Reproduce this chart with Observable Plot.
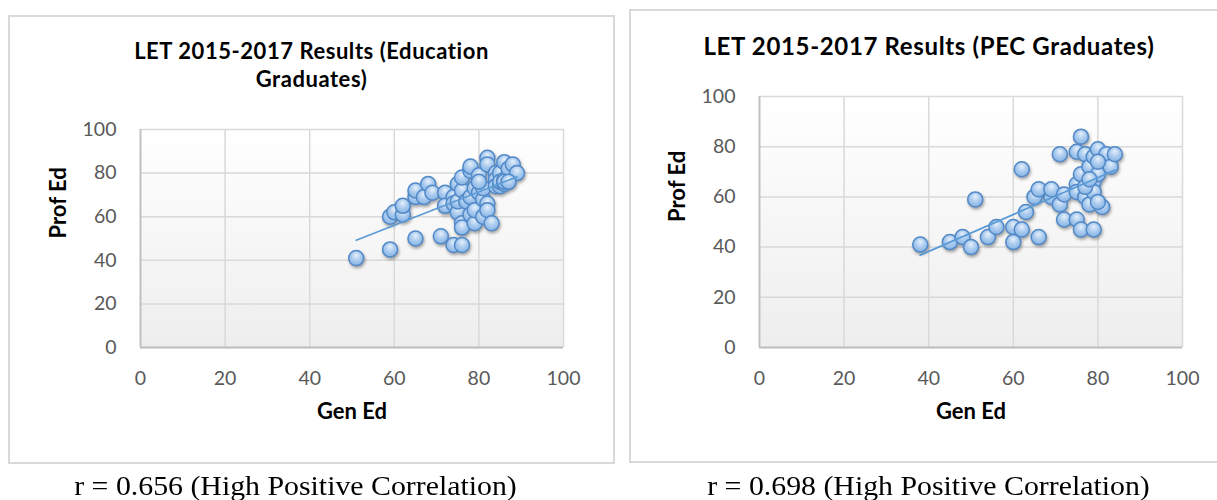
<!DOCTYPE html>
<html>
<head>
<meta charset="utf-8">
<script src="https://cdn.jsdelivr.net/npm/d3@7"></script>
<script src="https://cdn.jsdelivr.net/npm/@observablehq/plot@0.6"></script>
<style>
  html, body { margin: 0; padding: 0; background: #fff; }
  body { width: 1217px; height: 500px; position: relative; overflow: hidden; }
  .box { position: absolute; border: 2px solid #d9d9d9; box-sizing: border-box; }
  .chart { position: absolute; }
  .title { position: absolute; font-family: Lato, sans-serif; font-weight: bold; line-height: 28px; color: #000; text-align: center; white-space: nowrap; }
  .caption { position: absolute; font-family: "Liberation Serif", "Times New Roman", serif; font-size: 28px; line-height: 1; color: #000; text-align: center; white-space: nowrap; transform: scaleX(1.065); }
</style>
</head>
<body>
<div class="box" style="left:8px;top:15px;width:607px;height:449px;"></div>
<div class="box" style="left:629px;top:9px;width:600px;height:454px;"></div>
<div id="chartL" class="chart" style="left:9px;top:16px;"></div>
<div id="chartR" class="chart" style="left:630px;top:10px;"></div>
<div class="title" style="left:9px;width:605px;top:37px;font-size:22px;letter-spacing:0.55px;">LET 2015-2017 Results (Education<br>Graduates)</div>
<div class="title" style="left:630px;width:598px;top:32px;font-size:24px;letter-spacing:0.65px;">LET 2015-2017 Results (PEC Graduates)</div>
<div class="caption" style="left:0px;width:591px;top:472px;">r = 0.656 (High Positive Correlation)</div>
<div class="caption" style="left:630px;width:597px;top:472px;">r = 0.698 (High Positive Correlation)</div>
<script>
// ---- Data ----
const xTicks = [0, 20, 40, 60, 80, 100];
const yTicks = [0, 20, 40, 60, 80, 100];

// Education graduates: Gen Ed (x) and Prof Ed (y)
const eduGen  = [51, 59, 65, 71, 74, 76, 59, 60, 62, 62, 65, 65, 67, 68, 69, 72, 72, 74, 74, 75, 75, 75, 76, 76, 76, 77, 78, 78, 79, 79, 79, 80, 81, 81, 81, 82, 82, 83, 76, 78, 78, 80, 80, 82, 82, 84, 84, 84, 85, 85, 85, 86, 86, 86, 87, 88, 89, 86, 87];
const eduProf = [41, 45, 50, 51, 47, 47, 60, 62, 61, 65, 69, 72, 69, 75, 71, 71, 65, 69, 66, 75, 62, 67, 57, 55, 72, 67, 61, 69, 57, 63, 73, 71, 60, 68, 73, 66, 63, 57, 78, 81, 83, 79, 76, 87, 84, 80, 77, 74, 80, 74, 76, 85, 75, 77, 82, 84, 80, 76, 76];

// PEC graduates: Gen Ed (x) and Prof Ed (y)
const pecGen  = [38, 45, 48, 50, 51, 54, 56, 60, 60, 62, 62, 63, 65, 66, 66, 69, 69, 71, 71, 72, 72, 75, 76, 76, 75, 77, 75, 75, 76, 77, 78, 78, 79, 79, 79, 79, 80, 80, 81, 82, 83, 84, 80, 80, 77, 78];
const pecProf = [41, 42, 44, 40, 59, 44, 48, 48, 42, 47, 71, 54, 60, 63, 44, 60, 63, 57, 77, 51, 61, 51, 47, 84, 78, 77, 65, 62, 69, 60, 57, 72, 66, 62, 47, 76, 79, 69, 56, 77, 72, 77, 58, 74, 64, 67];

function makeChart(gen, prof, id, opts) {
  const data = gen.map((g, i) => ({gen: g, prof: prof[i]}));
  const svg = Plot.plot({
    width: opts.width,
    height: opts.height,
    marginLeft: opts.ml,
    marginRight: opts.mr,
    marginTop: opts.mt,
    marginBottom: opts.mb,
    x: {domain: [0, 100]},
    y: {domain: [0, 100]},
    style: {fontFamily: "Lato, sans-serif", fontSize: "19.5px", color: "#595959", background: "transparent", overflow: "visible"},
    marks: [
      Plot.frame({fill: `url(#bg${id})`, stroke: "none"}),
      Plot.gridX(xTicks, {stroke: "#d9d9d9", strokeOpacity: 1, strokeWidth: 1.5}),
      Plot.gridY(yTicks, {stroke: "#d9d9d9", strokeOpacity: 1, strokeWidth: 1.5}),
      Plot.ruleX([0], {stroke: "#bfbfbf", strokeWidth: 1.8}),
      Plot.ruleY([0], {stroke: "#bfbfbf", strokeWidth: 1.8}),
      Plot.axisX(xTicks, {tickSize: 0, tickPadding: 24, label: null}),
      Plot.axisY(yTicks, {tickSize: 0, tickPadding: 24, label: null}),
      Plot.dot(data, {x: "gen", y: "prof", r: 7.5, fill: `url(#dot${id})`, stroke: "#5289c8", strokeWidth: 1.5}),
      Plot.linearRegressionY(data, {x: "gen", y: "prof", stroke: "#5b9bd5", strokeWidth: 1.8, ci: 0}),
      Plot.text(["Gen Ed"], {text: d => d, frameAnchor: "bottom", dy: 71, fontWeight: "bold", fill: "#000", fontSize: 22}),
      Plot.text(["Prof Ed"], {text: d => d, frameAnchor: "left", dx: -82, rotate: -90, fontWeight: "bold", fill: "#000", fontSize: 22})
    ]
  });
  const s = d3.select(svg);
  const defs = s.insert("defs", ":first-child");
  const bg = defs.append("linearGradient").attr("id", `bg${id}`).attr("x1", 0).attr("y1", 0).attr("x2", 0).attr("y2", 1);
  bg.append("stop").attr("offset", "0%").attr("stop-color", "#ffffff");
  bg.append("stop").attr("offset", "100%").attr("stop-color", "#eeeeee");
  const dg = defs.append("radialGradient").attr("id", `dot${id}`).attr("cx", "50%").attr("cy", "40%").attr("r", "60%").attr("fx", "50%").attr("fy", "30%");
  dg.append("stop").attr("offset", "0%").attr("stop-color", "#e6f0fb");
  dg.append("stop").attr("offset", "55%").attr("stop-color", "#a9caee");
  dg.append("stop").attr("offset", "100%").attr("stop-color", "#86b4e4");
  s.selectAll('g[aria-label="dot"]').style("filter", "drop-shadow(1.5px 2px 1.5px rgba(0,0,0,0.35))");
  document.getElementById(id === "L" ? "chartL" : "chartR").appendChild(svg);
}

makeChart(eduGen, eduProf, "L", {width: 605, height: 447, ml: 131, mr: 51, mt: 113, mb: 116});
makeChart(pecGen, pecProf, "R", {width: 587, height: 452, ml: 129, mr: 35, mt: 86, mb: 115});
</script>
</body>
</html>
